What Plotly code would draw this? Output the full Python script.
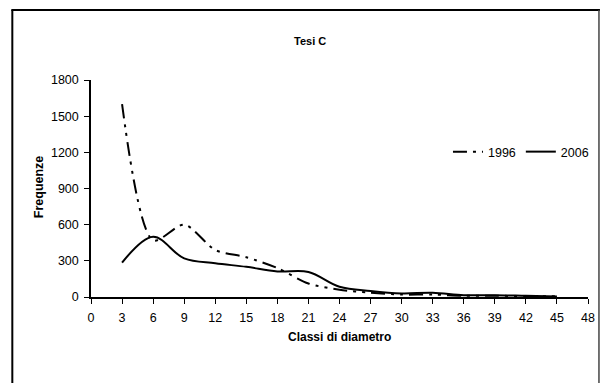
import plotly.graph_objects as go

classi = [3, 6, 9, 12, 15, 18, 21, 24, 27, 30, 33, 36, 39, 42, 45]
freq_1996 = [1600, 470, 600, 390, 330, 240, 112, 60, 35, 20, 20, 10, 10, 8, 5]
freq_2006 = [285, 500, 320, 280, 250, 212, 208, 85, 50, 30, 35, 15, 15, 10, 5]
x_ticks = list(range(0, 49, 3))
y_ticks = list(range(0, 1801, 300))

FONT = "Liberation Sans, Arial, sans-serif"

fig = go.Figure()
fig.add_trace(go.Scatter(
    x=classi, y=freq_1996, name="1996", mode="lines",
    line=dict(color="black", width=2, dash="14px,6px,3px,6px,3px,6px",
              shape="spline", smoothing=0.8),
))
fig.add_trace(go.Scatter(
    x=classi, y=freq_2006, name="2006", mode="lines",
    line=dict(color="black", width=2, shape="spline", smoothing=1.0),
))

W, H = 606, 383
L, R, T, B = 91, 16, 80, 86
pw = W - L - R
ph = H - T - B

def px(xp):
    return (xp - L) / pw

def py(yp):
    return (H - B - yp) / ph

fig.update_layout(
    width=W, height=H,
    margin=dict(l=L, r=R, t=T, b=B, pad=0),
    paper_bgcolor="white", plot_bgcolor="white",
    font=dict(family=FONT, size=12, color="black"),
    showlegend=True,
    legend=dict(orientation="h", x=px(596), xanchor="right", y=py(152), yanchor="middle",
                bgcolor="rgba(0,0,0,0)", borderwidth=0,
                font=dict(family=FONT, size=12.5, color="black"),
                itemwidth=30, tracegroupgap=0),
    xaxis=dict(range=[0, 48], tickmode="array", tickvals=x_ticks,
               ticktext=[str(v) for v in x_ticks],
               showgrid=False, zeroline=False, showline=True, linecolor="black",
               linewidth=1.5, ticks="outside", ticklen=5, tickcolor="black",
               tickwidth=1, ticklabelstandoff=3,
               tickfont=dict(family=FONT, size=12.5, color="black")),
    yaxis=dict(range=[0, 1800], tickmode="array", tickvals=y_ticks,
               ticktext=[str(v) for v in y_ticks],
               showgrid=False, zeroline=False, showline=True, linecolor="black",
               linewidth=1.5, ticks="outside", ticklen=5, tickcolor="black",
               tickwidth=1, ticklabelstandoff=3,
               tickfont=dict(family=FONT, size=12.5, color="black")),
)

# Chart frame
fig.add_shape(type="line", xref="paper", yref="paper",
              x0=px(11), x1=px(602), y0=py(10), y1=py(10),
              line=dict(color="black", width=2))
fig.add_shape(type="line", xref="paper", yref="paper",
              x0=px(12), x1=px(12), y0=py(10), y1=py(400),
              line=dict(color="black", width=2))
fig.add_shape(type="line", xref="paper", yref="paper",
              x0=px(601), x1=px(601), y0=py(10), y1=py(400),
              line=dict(color="#444", width=1.5))

fig.add_annotation(text="<b>Tesi C</b>", xref="paper", yref="paper",
                   x=px(311), y=py(41), xanchor="center", yanchor="middle",
                   showarrow=False, font=dict(family=FONT, size=11, color="black"))
fig.add_annotation(text="<b>Classi di diametro</b>", xref="paper", yref="paper",
                   x=px(340), y=py(337), xanchor="center", yanchor="middle",
                   showarrow=False, font=dict(family=FONT, size=12, color="black"))
fig.add_annotation(text="<b>Frequenze</b>", xref="paper", yref="paper",
                   x=px(39), y=py(187), xanchor="center", yanchor="middle",
                   textangle=-90, showarrow=False,
                   font=dict(family=FONT, size=12.5, color="black"))

fig.write_html("out.html")
